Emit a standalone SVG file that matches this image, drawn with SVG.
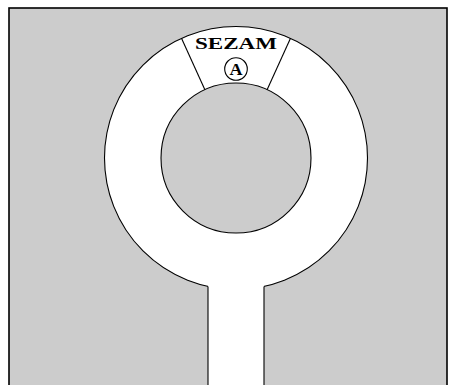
<svg xmlns="http://www.w3.org/2000/svg" width="456" height="385" viewBox="0 0 456 385">
<style>
.ln{stroke:#000;stroke-width:1.1;fill:none}
.lbl{font-family:"Liberation Serif","DejaVu Serif",serif;font-weight:bold;fill:#000;text-anchor:middle}
</style>
<g id="background">
<rect x="9" y="8" width="438" height="400" fill="#cccccc" stroke="#000" stroke-width="1.6"/>
</g>
<g id="ring">
<circle cx="236" cy="158" r="131.5" fill="#fff" stroke="#000" stroke-width="1.1"/>
<rect x="208" y="270" width="56" height="120" fill="#fff"/>
<line class="ln" x1="208" y1="286.5" x2="208" y2="386"/>
<line class="ln" x1="264" y1="286.5" x2="264" y2="386"/>
<circle cx="236" cy="158" r="75" fill="#cccccc" stroke="#000" stroke-width="1.1"/>
</g>
<g id="connectors">
<line class="ln" x1="181.5" y1="38.3" x2="204.9" y2="89.7"/>
<line class="ln" x1="290.5" y1="38.3" x2="267.1" y2="89.7"/>
</g>
<g id="sezam">
<text class="lbl" x="236" y="48.5" font-size="17" textLength="82" lengthAdjust="spacingAndGlyphs">SEZAM</text>
<circle cx="236" cy="69" r="11.3" fill="none" stroke="#000" stroke-width="1.1"/>
<text class="lbl" x="236" y="75" font-size="17.5" textLength="13" lengthAdjust="spacingAndGlyphs">A</text>
</g>
</svg>
